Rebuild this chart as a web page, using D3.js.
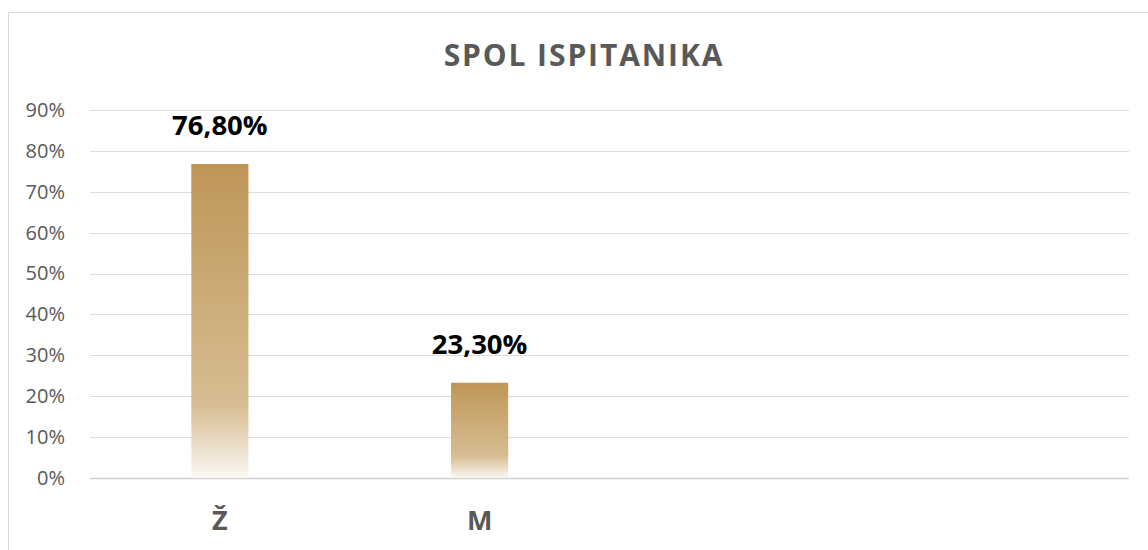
<!DOCTYPE html>
<html>
<head>
<meta charset="utf-8">
<script src="https://cdn.jsdelivr.net/npm/d3@7"></script>
<style>
  body { margin: 0; background: #fff; }
  svg { display: block; font-family: "Open Sans", sans-serif; }
</style>
</head>
<body>
<div id="chart"></div>
<script>
// Chart data (two empty slots on the right, as in the original sheet)
const categories = ["Ž", "M", "", ""];
const values = [76.8, 23.3, null, null];
const valueLabels = ["76,80%", "23,30%", "", ""];
const yTicks = [0, 10, 20, 30, 40, 50, 60, 70, 80, 90];
const title = "SPOL ISPITANIKA";

// Chart sizes
const width = 1148,
    height = 550,
    margin = ({top: 110, right: 19, bottom: 72, left: 90});

const svg = d3.select("#chart")
    .append("svg")
    .attr("width", width)
    .attr("height", height);

// Gradient for the bars
const grad = svg.append("defs").append("linearGradient")
    .attr("id", "barGrad")
    .attr("x1", 0).attr("y1", 0)
    .attr("x2", 0).attr("y2", 1);
grad.append("stop").attr("offset", "0%").attr("stop-color", "#BF9657");
grad.append("stop").attr("offset", "77%").attr("stop-color", "#D7BD93");
grad.append("stop").attr("offset", "100%").attr("stop-color", "#FBF8F4");

// Outer frame
svg.append("rect")
    .attr("x", 8.5)
    .attr("y", 12.5)
    .attr("width", 1200)
    .attr("height", 600)
    .attr("fill", "none")
    .attr("stroke", "#D9D9D9");

// Scales
const x = d3.scaleBand()
    .domain(d3.range(categories.length))
    .range([margin.left, width - margin.right])
    .paddingInner(0.78)
    .paddingOuter(0.39);

const y = d3.scaleLinear()
    .domain([0, 90])
    .range([height - margin.bottom, margin.top]);

// Grid lines
svg.append("g")
    .selectAll("line")
    .data(yTicks)
    .join("line")
    .attr("x1", margin.left)
    .attr("x2", width - margin.right)
    .attr("y1", d => Math.round(y(d)) + 0.5)
    .attr("y2", d => Math.round(y(d)) + 0.5)
    .attr("stroke", d => d === 0 ? "#CFCFCF" : "#DCDCDC")
    .attr("stroke-width", d => d === 0 ? 1.5 : 1);

// Y axis labels
const yAxis = svg.append("g")
    .attr("transform", `translate(${margin.left - 22},0)`)
    .call(d3.axisLeft(y)
        .tickValues(yTicks)
        .tickSize(0)
        .tickFormat(d => d + "%"));
yAxis.select(".domain").remove();
yAxis.selectAll("text")
    .attr("fill", "#595959")
    .attr("font-size", "20px")
    .attr("font-family", "'Open Sans', sans-serif");

// Bars
const barData = values.map((v, i) => ({i, v})).filter(d => d.v !== null);
svg.append("g")
    .selectAll("rect")
    .data(barData)
    .join("rect")
    .attr("x", d => x(d.i))
    .attr("y", d => y(d.v))
    .attr("width", x.bandwidth())
    .attr("height", d => y(0) - y(d.v))
    .attr("fill", "url(#barGrad)");

// Value labels
svg.append("g")
    .selectAll("text")
    .data(barData)
    .join("text")
    .attr("x", d => x(d.i) + x.bandwidth() / 2)
    .attr("y", d => y(d.v) - 29)
    .attr("text-anchor", "middle")
    .attr("font-size", "27.5px")
    .attr("font-weight", 700)
    .attr("fill", "#000")
    .text(d => valueLabels[d.i]);

// X axis labels
const xAxis = svg.append("g")
    .attr("transform", `translate(0,${height - margin.bottom})`)
    .call(d3.axisBottom(x)
        .tickSize(0)
        .tickPadding(33)
        .tickFormat(i => categories[i]));
xAxis.select(".domain").remove();
xAxis.selectAll("text")
    .attr("fill", "#595959")
    .attr("font-size", "27px")
    .attr("font-weight", 700)
    .attr("font-family", "'Open Sans', sans-serif");

// Title
svg.append("text")
    .attr("x", 584)
    .attr("y", 66)
    .attr("text-anchor", "middle")
    .attr("font-size", "30px")
    .attr("font-weight", 700)
    .attr("letter-spacing", "1.9px")
    .attr("fill", "#595959")
    .text(title);
</script>
</body>
</html>
